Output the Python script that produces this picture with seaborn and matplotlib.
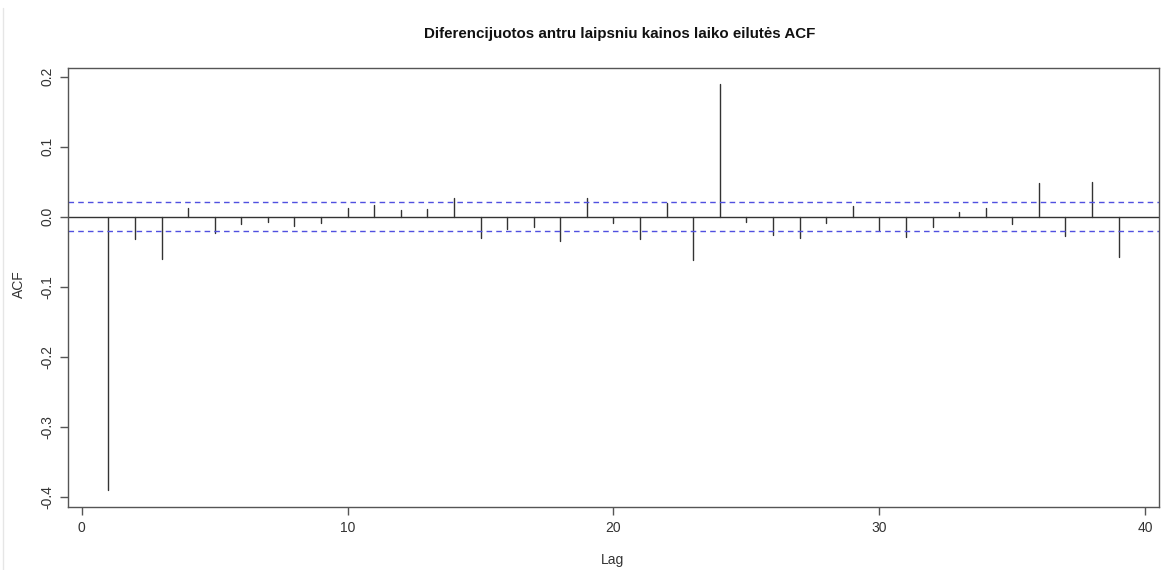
import numpy as np
import pandas as pd
import matplotlib
matplotlib.use("Agg")
import matplotlib.pyplot as plt
import seaborn as sns

# ---- data ----
lags = list(range(1, 40))
acf_values = [
    -0.391, -0.032, -0.060, 0.013, -0.024, -0.010, -0.008, -0.014, -0.009, 0.012,
    0.017, 0.0095, 0.0105, 0.027, -0.030, -0.017, -0.015, -0.035, 0.027, -0.0086,
    -0.032, 0.0195, -0.062, 0.189, -0.008, -0.026, -0.030, -0.0086, 0.015, -0.0195,
    -0.0295, -0.015, 0.006, 0.013, -0.011, 0.0486, -0.0276, 0.0495, -0.057,
]
conf_bound = 0.0205
x_ticks = [0, 10, 20, 30, 40]
y_ticks = [-0.4, -0.3, -0.2, -0.1, 0.0, 0.1, 0.2]
title = "Diferencijuotos antru laipsniu kainos laiko eilutės ACF"
x_label = "Lag"
y_label = "ACF"

sns.set_theme(style="white")
plt.rcParams["font.family"] = ["Liberation Sans", "DejaVu Sans"]

# long-format stems: each lag has a point at 0 and at its ACF value
stem_df = pd.DataFrame({
    "lag": np.repeat(lags, 2),
    "acf": np.ravel([[0.0, v] for v in acf_values]),
})

W, H = 1162, 570
fig = plt.figure(figsize=(W / 100, H / 100), dpi=100)
ax = fig.add_axes([68 / W, 1 - 506.7 / H, (1159 - 68) / W, (506.7 - 68) / H])

sns.lineplot(data=stem_df, x="lag", y="acf", units="lag", estimator=None,
             color="#333333", linewidth=1.0, ax=ax, legend=False)
ax.axhline(0, color="#333333", linewidth=1.0)
ax.axhline(conf_bound, color="#5050e0", linewidth=1.0, linestyle=(0, (4, 3)))
ax.axhline(-conf_bound, color="#5050e0", linewidth=1.0, linestyle=(0, (4, 3)))

lo, hi = min(lags), max(lags)
pad = 0.04 * (hi - lo)
ax.set_xlim(lo - pad, hi + pad)
ymin, ymax = min(acf_values), max(acf_values)
ypad = 0.04 * (ymax - ymin)
ax.set_ylim(ymin - ypad, ymax + ypad)

ax.set_xticks(x_ticks)
ax.set_xticklabels([str(t) for t in x_ticks])
ax.set_yticks(y_ticks)
ax.set_yticklabels([f"{t:.1f}" for t in y_ticks], rotation=90, va="center")

for s in ax.spines.values():
    s.set_color("#555555")
    s.set_linewidth(1.0)
ax.tick_params(axis="both", direction="out", length=5.8, width=1.0, color="#555555",
               labelsize=10, labelcolor="#333333", bottom=True, left=True)
ax.tick_params(axis="x", pad=4.5)
ax.tick_params(axis="y", pad=4.0)
ax.grid(False)
ax.set_xlabel("")
ax.set_ylabel("")

fig.text(613 / W, 1 - 560 / H, x_label, ha="center", va="center",
         fontsize=10, color="#333333")
fig.text(19 / W, 1 - 284 / H, y_label, ha="center", va="center", rotation=90,
         fontsize=10, color="#333333")
fig.text(620 / W, 1 - 34 / H, title, ha="center", va="center",
         fontsize=10.9, fontweight="bold", color="#111111")

# faint left border present in the screenshot
fig.add_artist(plt.Line2D([3 / W, 3 / W], [0, 1 - 8 / H],
                          color="#e6e6e6", linewidth=1.0, transform=fig.transFigure))

fig.savefig("out.png", dpi=100)
